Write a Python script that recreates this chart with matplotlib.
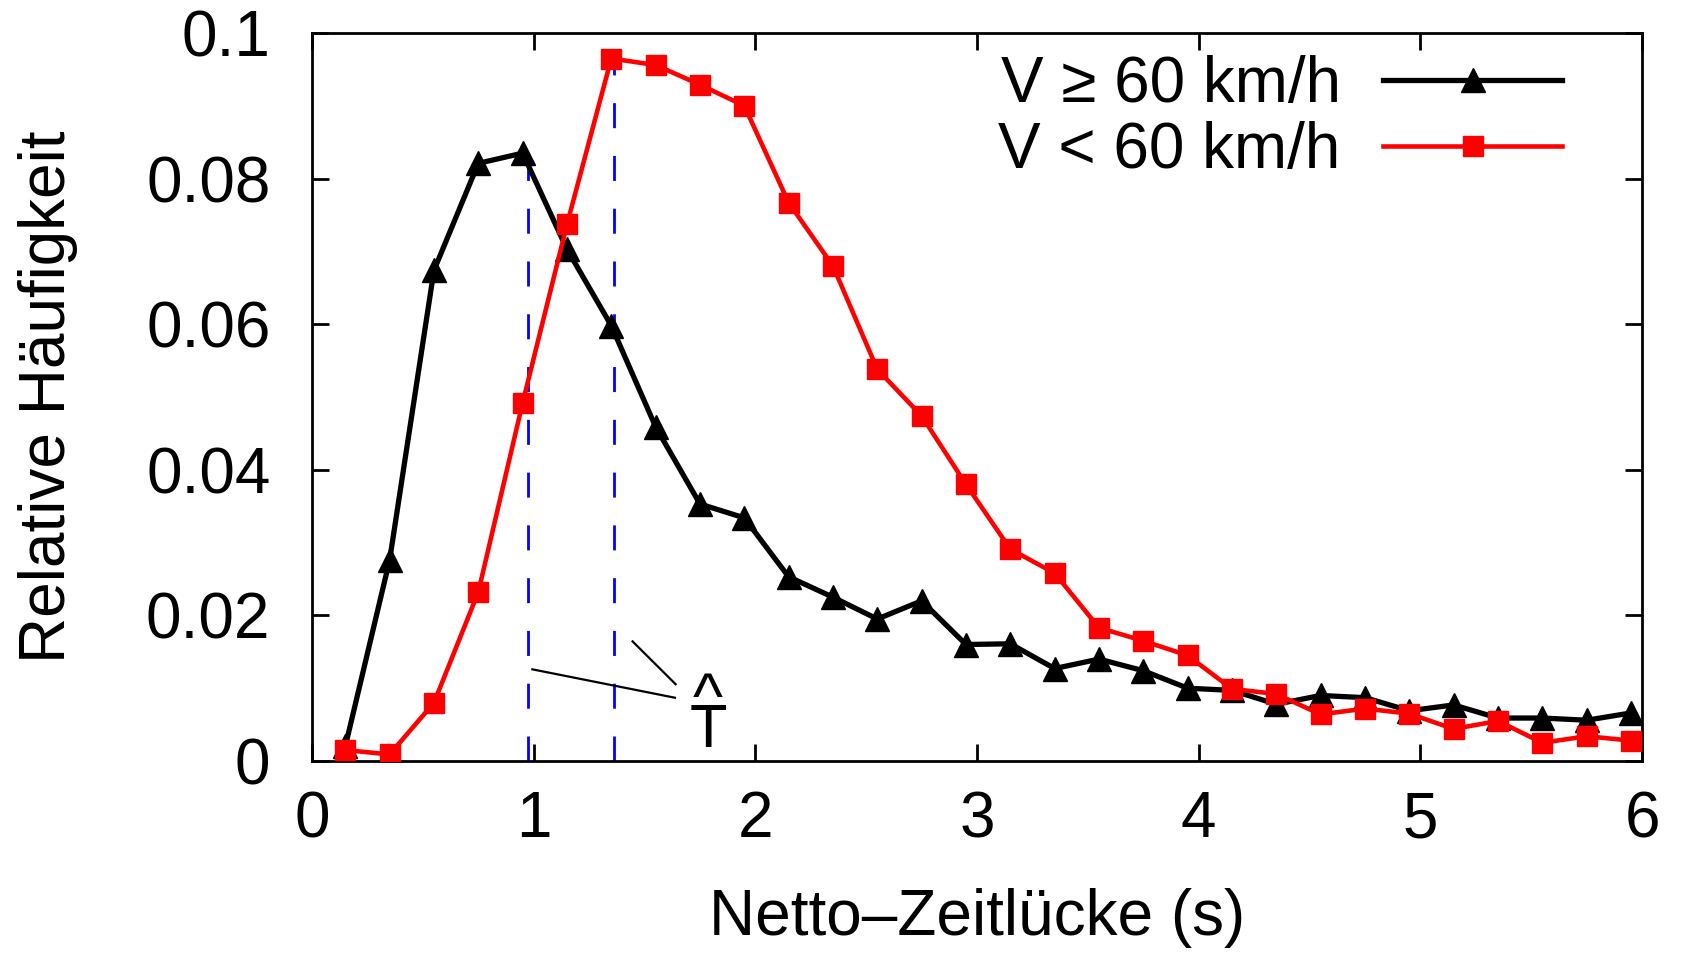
import numpy as np
import matplotlib.pyplot as plt

plt.rcParams['font.family'] = ['Liberation Sans', 'DejaVu Sans']

# bin centres (s)
zeit = [0.15, 0.35, 0.55, 0.75, 0.95, 1.15, 1.35, 1.55, 1.75, 1.95,
        2.15, 2.35, 2.55, 2.75, 2.95, 3.15, 3.35, 3.55, 3.75, 3.95,
        4.15, 4.35, 4.55, 4.75, 4.95, 5.15, 5.35, 5.55, 5.75, 5.95]

# V >= 60 km/h
schnell = [0.0020, 0.0276, 0.0674, 0.0821, 0.0835, 0.0703, 0.0598, 0.0459, 0.0353, 0.0334,
           0.0253, 0.0225, 0.0195, 0.0220, 0.0160, 0.0161, 0.0127, 0.0140, 0.0124, 0.0100,
           0.0097, 0.0078, 0.0090, 0.0087, 0.0069, 0.0077, 0.0059, 0.0059, 0.0056, 0.0066]

# V < 60 km/h
langsam = [0.0015, 0.0009, 0.0080, 0.0232, 0.0492, 0.0737, 0.0965, 0.0956, 0.0929, 0.0900,
           0.0767, 0.0680, 0.0538, 0.0474, 0.0380, 0.0291, 0.0258, 0.0183, 0.0165, 0.0145,
           0.0099, 0.0092, 0.0064, 0.0072, 0.0065, 0.0044, 0.0055, 0.0025, 0.0034, 0.0028]

# T-hat markers (dashed lines) and annotation
t_hat = [0.975, 1.36]
t_hat_top = [0.0849, 0.0960]
pfeil1 = ([0.994, 1.637], [0.01259, 0.00869])
pfeil2 = ([1.446, 1.640], [0.01643, 0.01055])
t_pos = (1.786, 0.0019)
hut_pos = (1.786, 0.0059)

fig = plt.figure(figsize=(16.84, 9.6), dpi=100)
ax = fig.add_axes([0.1853, 0.2073, 0.7898, 0.7583])

ax.plot(zeit, schnell, color='black', lw=3.8, marker='^', ms=17,
        label='V \u2265 60 km/h', zorder=3)
ax.plot(zeit, langsam, color='red', lw=3.3, marker='s', ms=15,
        label='V < 60 km/h', zorder=4)

for x, top in zip(t_hat, t_hat_top):
    ax.plot([x, x], [0, top], color='blue', lw=2, dashes=(9, 10), zorder=2)

ax.plot(*pfeil1, color='black', lw=1.6)
ax.plot(*pfeil2, color='black', lw=1.6)
ax.text(t_pos[0], t_pos[1], 'T', fontsize=44, ha='center', va='baseline')
ax.text(hut_pos[0], hut_pos[1], '^', fontsize=46, ha='center', va='baseline')

ax.set_xlim(0, 6)
ax.set_ylim(0, 0.1)
ax.set_xticks(range(7))
ax.set_yticks([0, 0.02, 0.04, 0.06, 0.08, 0.1])
ax.set_yticklabels(['0', '0.02', '0.04', '0.06', '0.08', '0.1'])
ax.tick_params(direction='in', length=12, width=2, labelsize=46,
               top=True, right=True)
ax.tick_params(axis='x', pad=21)
ax.tick_params(axis='y', pad=30)
for s in ax.spines.values():
    s.set_linewidth(2)

ax.set_xlabel('Netto\u2013Zeitl\u00fccke (s)', fontsize=46)
ax.set_ylabel('Relative H\u00e4ufigkeit', fontsize=46)
ax.xaxis.set_label_coords(0.5, -0.1745)
ax.yaxis.set_label_coords(-0.1756, 0.5)

ax.legend(loc='upper right', bbox_to_anchor=(0.94, 0.97), frameon=False,
          fontsize=46, markerfirst=False, handlelength=2.8, handletextpad=0.67,
          labelspacing=0.1, borderpad=0, borderaxespad=0)

fig.savefig('out.png', dpi=100)
